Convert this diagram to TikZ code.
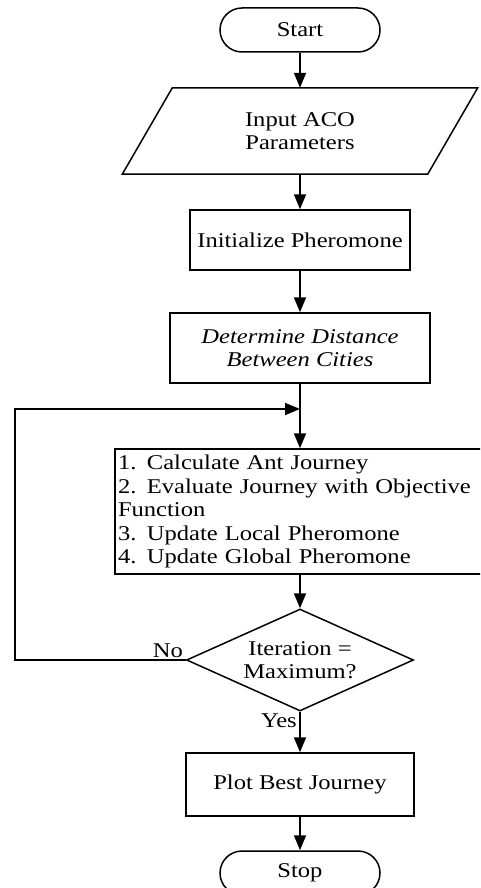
\documentclass[tikz,border=0pt]{standalone}
\usepackage{fontspec}
\setmainfont{Liberation Serif}[FakeStretch=1.17]
\usetikzlibrary{shapes.geometric,shapes.misc,arrows.meta}
\begin{document}
\begin{tikzpicture}[x=1pt,y=-1pt,
  font=\fontsize{21}{23.5}\selectfont,
  term/.style={rounded rectangle, draw, line width=1.5pt, minimum width=160pt, minimum height=44pt, inner sep=0pt},
  procbox/.style={rectangle, draw, line width=1.5pt, inner sep=0pt, align=center},
  decbox/.style={diamond, draw, line width=1.5pt, aspect=2.2, inner sep=0pt, minimum width=227pt, minimum height=102pt, align=center},
  flow/.style={line width=1.8pt, -{Triangle[length=15pt,width=12pt]}},
  shapeline/.style={line width=1.5pt, line join=miter},
  lbl/.style={inner sep=0pt}]
\useasboundingbox (0,0) rectangle (480,888);
\clip (0,0) rectangle (480,888);
\fill[white] (0,0) rectangle (480,888);
\node[term] (start) at (300,30) {Start};
\node[lbl, minimum width=305pt, minimum height=86pt, align=center] (input) at (300,131) {Input ACO\\Parameters};
\draw[shapeline] ([xshift=-25pt]input.south west) -- ([xshift=25pt]input.north west) -- ([xshift=25pt]input.north east) -- ([xshift=-25pt]input.south east) -- cycle;
\node[procbox, minimum width=220pt, minimum height=60pt] (init) at (300,240) {Initialize Pheromone};
\node[procbox, minimum width=260pt, minimum height=70pt, font={\fontsize{21}{23.5}\selectfont\itshape}] (dist) at (300,348) {Determine Distance\\Between Cities};
\coordinate (join) at (300,409);
\node[procbox, minimum width=370pt, minimum height=125pt, text width=364pt, align=left, inner xsep=3pt] (proc) at (300,511.5) {1. Calculate Ant Journey\\\makebox[357pt][s]{2. Evaluate Journey with Objective}\\Function\\3. Update Local Pheromone\\4. Update Global Pheromone};
\node[decbox] (dec) at (300,660) {Iteration =\\Maximum?};
\node[procbox, minimum width=228pt, minimum height=63pt] (plot) at (300,784.5) {Plot Best Journey};
\node[term] (stop) at (300,873) {Stop};
\coordinate (lc1) at (15,660);
\coordinate (lc2) at (15,409);
\draw[flow] (start.south) -- (input.north);
\draw[flow] (input.south) -- (init.north);
\draw[flow] (init.south) -- (dist.north);
\draw[flow] (dist.south) -- (proc.north);
\draw[flow] (proc.south) -- (dec.north);
\draw[flow] (dec.south) -- (plot.north);
\draw[flow] (plot.south) -- (stop.north);
\draw[flow] (dec.west) -- (lc1) -- (lc2) -- (join);
\node[lbl, anchor=base east] (nolbl) at (183,657) {No};
\node[lbl, anchor=base east] (yeslbl) at (297,727) {Yes};
\end{tikzpicture}
\end{document}
